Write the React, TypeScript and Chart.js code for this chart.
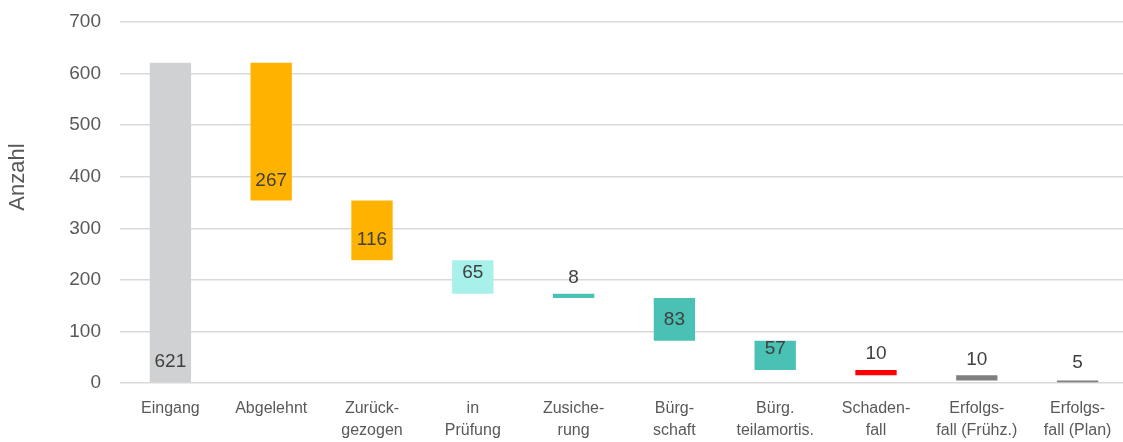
import React, { useEffect, useRef } from "react";
import { Chart, registerables } from "chart.js";

Chart.register(...registerables);

const categories: string[][] = [
  ["Eingang"],
  ["Abgelehnt"],
  ["Zurück-", "gezogen"],
  ["in", "Prüfung"],
  ["Zusiche-", "rung"],
  ["Bürg-", "schaft"],
  ["Bürg.", "teilamortis."],
  ["Schaden-", "fall"],
  ["Erfolgs-", "fall (Frühz.)"],
  ["Erfolgs-", "fall (Plan)"],
];
const values: number[] = [621, 267, 116, 65, 8, 83, 57, 10, 10, 5];
const colors: string[] = [
  "#d0d1d3", "#ffb300", "#ffb300", "#a8f0ea", "#49c1b4",
  "#49c1b4", "#49c1b4", "#ff0000", "#808080", "#808080",
];
// value-axis position where each data label is centred
const labelAnchors: number[] = [41, 393, 277, 213, 205, 122, 66, 56, 45, 39];
const yTicks: number[] = [0, 100, 200, 300, 400, 500, 600, 700];
const yTitle = "Anzahl";
const FONT = "'Liberation Sans', Arial, sans-serif";

// plot-area frame
const AREA_TOP = 22;
const AREA_RIGHT = 1128;

function buildRanges(): [number, number][] {
  const out: [number, number][] = [];
  let level = 0;
  values.forEach((v, i) => {
    if (i === 0) {
      out.push([0, v]);
      level = v;
    } else {
      out.push([level - v, level]);
      level -= v;
    }
  });
  return out;
}

const framePlugin = {
  id: "frame",
  afterLayout(chart: any) {
    const x = chart.scales.x;
    const y = chart.scales.y;
    chart.chartArea.top = AREA_TOP;
    chart.chartArea.right = AREA_RIGHT;
    chart.chartArea.width = AREA_RIGHT - chart.chartArea.left;
    chart.chartArea.height = chart.chartArea.bottom - AREA_TOP;
    y.top = AREA_TOP;
    y.height = y.bottom - AREA_TOP;
    y.configure();
    x.right = AREA_RIGHT;
    x.width = AREA_RIGHT - x.left;
    x.configure();
  },
};

const labelPlugin = {
  id: "wfLabels",
  afterDatasetsDraw(chart: any) {
    const ctx = chart.ctx;
    const meta = chart.getDatasetMeta(0);
    const y = chart.scales.y;
    ctx.save();
    ctx.font = `19px ${FONT}`;
    ctx.fillStyle = "#404040";
    ctx.textAlign = "center";
    ctx.textBaseline = "middle";
    meta.data.forEach((bar: any, i: number) => {
      ctx.fillText(String(values[i]), bar.x, y.getPixelForValue(labelAnchors[i]));
    });
    // axis title
    ctx.translate(18, 177);
    ctx.rotate(-Math.PI / 2);
    ctx.font = `22px ${FONT}`;
    ctx.fillStyle = "#595959";
    ctx.fillText(yTitle, 0, 0);
    ctx.restore();
  },
};

export default function App() {
  const ref = useRef<HTMLCanvasElement>(null);
  useEffect(() => {
    document.body.style.margin = "0";
    const chart = new Chart(ref.current!, {
      type: "bar",
      data: {
        labels: categories,
        datasets: [
          {
            data: buildRanges() as any,
            backgroundColor: colors,
            borderWidth: 0,
            barPercentage: 0.41,
            categoryPercentage: 1,
            borderSkipped: false,
          },
        ],
      },
      options: {
        animation: false,
        responsive: false,
        maintainAspectRatio: false,
        layout: { padding: { top: 14, right: 0, left: 0, bottom: 0 } },
        plugins: { legend: { display: false }, tooltip: { enabled: false } },
        scales: {
          x: {
            grid: { display: false, drawTicks: false },
            border: { display: false },
            ticks: {
              color: "#595959",
              font: { family: FONT, size: 16, lineHeight: 1.4 },
              maxRotation: 0,
              autoSkip: false,
              padding: 14,
            },
            afterFit: (s: any) => {
              s.height = 59;
            },
          },
          y: {
            min: 0,
            max: 700,
            afterBuildTicks: (s: any) => {
              s.ticks = yTicks.map((v) => ({ value: v }));
            },
            grid: { color: "#d9d9d9", lineWidth: 1.5, drawTicks: false },
            border: { display: false },
            ticks: {
              color: "#595959",
              font: { family: FONT, size: 19 },
              padding: 19,
            },
            afterFit: (s: any) => {
              s.width = 120;
            },
          },
        },
      },
      plugins: [framePlugin, labelPlugin],
    });
    return () => chart.destroy();
  }, []);
  return (
    <div style={{ width: 1123, height: 442 }}>
      <canvas ref={ref} width={1123} height={442} />
    </div>
  );
}
